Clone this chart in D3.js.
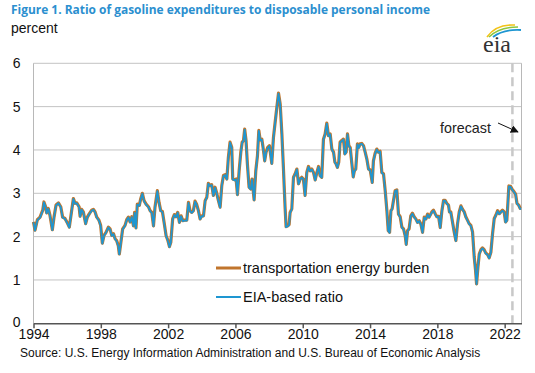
<!DOCTYPE html>
<html><head><meta charset="utf-8">
<script src="https://cdn.jsdelivr.net/npm/d3@7"></script>
<style>body{margin:0;background:#fff;} svg{display:block;font-family:"Liberation Sans",Arial,sans-serif;}</style>
</head><body><svg id="c" width="535" height="373"></svg>
<script>
// decimal-year dates of the plotted points
const dates = [
1994.00,1994.09,1994.23,1994.39,1994.55,1994.62,1994.72,1994.78,1994.88,1994.98,
1995.12,1995.22,1995.34,1995.48,1995.62,1995.73,1995.87,1996.01,1996.13,1996.27,
1996.37,1996.47,1996.57,1996.71,1996.77,1996.86,1996.96,1997.10,1997.20,1997.32,
1997.46,1997.56,1997.66,1997.76,1997.89,1997.99,1998.09,1998.19,1998.31,1998.45,
1998.55,1998.65,1998.75,1998.85,1998.94,1999.04,1999.10,1999.18,1999.30,1999.44,
1999.54,1999.64,1999.74,
1999.84,1999.94,2000.01,2000.09,2000.17,2000.29,2000.37,2000.47,2000.57,2000.69,
2000.83,2000.93,2001.03,2001.13,2001.22,2001.36,2001.46,2001.56,2001.66,2001.76,
2001.88,2001.98,2002.08,2002.16,2002.27,2002.37,2002.47,2002.57,2002.67,2002.77,
2002.87,2002.97,2003.11,2003.21,2003.30,2003.40,2003.50,2003.60,2003.70,2003.80,
2003.90,2004.00,2004.10,2004.20,2004.30,2004.39,2004.49,2004.59,2004.69,2004.79,
2004.89,2004.99,2005.09,2005.19,2005.29,2005.39,2005.49,2005.58,
2005.68,2005.78,2005.84,2005.96,2006.04,2006.12,2006.22,2006.32,2006.40,2006.48,
2006.55,2006.63,2006.71,2006.81,2006.91,2006.99,2007.11,2007.21,2007.31,2007.39,
2007.47,2007.57,2007.67,2007.74,2007.82,2007.92,2008.02,2008.10,2008.16,2008.26,
2008.36,2008.46,2008.56,2008.66,2008.76,2008.85,2008.95,2009.01,2009.11,2009.19,
2009.25,2009.35,2009.45,2009.55,2009.65,2009.75,2009.85,2009.94,2010.04,2010.14,
2010.24,2010.34,2010.44,2010.54,2010.64,2010.74,2010.84,2010.94,2011.03,2011.13,
2011.23,2011.33,2011.43,2011.53,
2011.63,2011.73,2011.83,2011.91,2011.98,2012.06,2012.14,2012.22,2012.32,2012.42,
2012.50,2012.58,2012.66,2012.74,2012.82,2012.92,2013.00,2013.07,2013.15,2013.25,
2013.33,2013.41,2013.51,2013.61,2013.71,2013.81,2013.91,2014.01,2014.13,2014.20,
2014.30,2014.40,2014.50,2014.60,2014.70,2014.80,2014.90,2015.00,2015.08,2015.16,
2015.24,2015.31,2015.39,2015.49,2015.59,2015.69,2015.79,2015.89,2015.99,2016.09,
2016.15,2016.23,2016.32,2016.42,2016.52,2016.62,2016.72,2016.82,2016.92,2017.02,
2017.12,2017.22,2017.32,2017.42,2017.51,
2017.67,2017.77,2017.87,2017.97,2018.07,2018.17,2018.27,2018.37,2018.46,2018.56,
2018.66,2018.72,2018.80,2018.90,2019.00,2019.10,2019.20,2019.30,2019.40,2019.50,
2019.60,2019.69,2019.79,2019.89,2019.99,2020.09,2020.19,2020.27,2020.33,2020.41,
2020.49,2020.59,2020.68,2020.78,2020.88,2020.98,2021.08,2021.18,2021.28,2021.38,
2021.48,2021.58,2021.68,2021.77,2021.87,2021.97,2022.05,2022.13,2022.19,2022.25,
2022.35,2022.45,2022.55,2022.65,2022.73,2022.83,2022.92,2022.98
];
// transportation energy burden, percent
const burden = [
2.34,2.15,2.39,2.45,2.61,2.80,2.69,2.55,2.65,2.49,
2.16,2.45,2.73,2.78,2.69,2.45,2.42,2.32,2.22,2.61,
2.88,2.77,2.78,2.69,2.47,2.63,2.57,2.30,2.45,2.53,
2.61,2.63,2.57,2.45,2.38,2.26,1.85,2.03,2.10,2.22,
2.18,2.03,2.07,1.95,1.91,1.79,1.60,1.83,2.18,2.26,
2.39,2.45,2.34,
2.46,2.25,2.56,2.20,2.75,2.72,2.87,3.00,2.83,2.75,
2.69,2.60,2.56,2.25,2.68,3.06,2.79,2.60,2.58,2.33,
2.02,1.92,1.77,1.87,2.41,2.51,2.46,2.56,2.33,2.48,
2.37,2.38,2.38,2.79,2.60,2.56,2.60,2.82,2.74,2.60,
2.41,2.48,2.48,2.83,2.91,3.23,3.18,3.20,2.95,3.14,
3.00,2.83,2.68,3.18,3.41,3.43,3.33,3.83,
4.18,4.06,3.33,3.31,3.33,2.97,3.52,3.95,4.18,4.22,
4.48,4.22,3.68,3.14,3.10,3.33,2.85,3.52,3.87,4.45,
4.23,4.25,3.98,3.75,3.95,4.06,4.10,3.87,3.69,4.29,
4.64,4.98,5.31,5.06,4.37,3.60,2.68,2.23,2.25,2.28,
2.56,2.64,3.37,3.45,3.56,3.22,3.33,3.37,3.33,2.95,
3.48,3.62,3.52,3.56,3.48,3.31,3.48,3.62,3.41,3.37,
4.25,4.37,4.62,4.33,
4.37,4.02,3.95,3.72,3.68,3.60,3.72,4.18,4.22,4.25,
3.91,3.95,4.37,4.10,4.06,3.68,3.38,3.52,3.56,4.14,
4.06,4.14,4.15,4.10,3.95,3.79,3.56,3.54,3.25,3.75,
3.92,4.02,3.95,3.97,3.48,3.45,3.06,2.60,2.14,2.10,
2.60,2.64,2.83,3.06,3.08,2.52,2.46,2.22,2.18,2.02,
1.82,2.14,2.18,2.48,2.54,2.46,2.41,2.33,2.37,2.29,
2.10,2.45,2.41,2.52,2.45,
2.57,2.61,2.53,2.46,2.47,2.21,2.60,2.84,2.84,2.77,
2.73,2.57,2.57,2.34,2.11,1.91,2.30,2.57,2.71,2.63,
2.57,2.46,2.38,2.30,2.26,2.11,1.53,1.22,0.91,1.29,
1.60,1.70,1.74,1.70,1.62,1.59,1.51,1.64,2.07,2.42,
2.50,2.60,2.53,2.57,2.61,2.57,2.34,2.38,2.77,3.17,
3.16,3.09,3.04,2.98,2.77,2.73,2.65,2.65
];
// EIA-based ratio, percent (overlaps the burden series almost exactly)
const eiaRatio = [
2.33,2.14,2.38,2.44,2.60,2.79,2.68,2.54,2.64,2.48,
2.15,2.44,2.72,2.77,2.68,2.44,2.41,2.31,2.21,2.60,
2.87,2.76,2.77,2.68,2.46,2.62,2.56,2.29,2.44,2.52,
2.60,2.62,2.56,2.44,2.37,2.25,1.84,2.02,2.09,2.21,
2.17,2.02,2.06,1.94,1.90,1.78,1.59,1.82,2.17,2.25,
2.38,2.44,2.33,
2.45,2.24,2.55,2.19,2.74,2.71,2.86,2.99,2.82,2.74,
2.68,2.59,2.55,2.24,2.67,3.05,2.78,2.59,2.57,2.32,
2.01,1.91,1.76,1.86,2.40,2.50,2.45,2.55,2.32,2.47,
2.36,2.37,2.37,2.78,2.59,2.55,2.59,2.81,2.73,2.59,
2.40,2.47,2.47,2.82,2.90,3.22,3.17,3.19,2.94,3.13,
2.99,2.82,2.67,3.17,3.40,3.42,3.32,3.82,
4.17,4.05,3.32,3.30,3.32,2.96,3.51,3.94,4.17,4.21,
4.47,4.21,3.67,3.13,3.09,3.32,2.84,3.51,3.86,4.44,
4.22,4.24,3.97,3.74,3.94,4.05,4.09,3.86,3.68,4.28,
4.63,4.97,5.30,5.05,4.36,3.59,2.67,2.22,2.24,2.27,
2.55,2.63,3.36,3.44,3.55,3.21,3.32,3.36,3.32,2.94,
3.47,3.61,3.51,3.55,3.47,3.30,3.47,3.61,3.40,3.36,
4.24,4.36,4.61,4.32,
4.36,4.01,3.94,3.71,3.67,3.59,3.71,4.17,4.21,4.24,
3.90,3.94,4.36,4.09,4.05,3.67,3.37,3.51,3.55,4.13,
4.05,4.13,4.14,4.09,3.94,3.78,3.55,3.53,3.24,3.74,
3.91,4.01,3.94,3.96,3.47,3.44,3.05,2.59,2.13,2.09,
2.59,2.63,2.82,3.05,3.07,2.51,2.45,2.21,2.17,2.01,
1.81,2.13,2.17,2.47,2.53,2.45,2.40,2.32,2.36,2.28,
2.09,2.44,2.40,2.51,2.44,
2.56,2.60,2.52,2.45,2.46,2.20,2.59,2.83,2.83,2.76,
2.72,2.56,2.56,2.33,2.10,1.90,2.29,2.56,2.70,2.62,
2.56,2.45,2.37,2.29,2.25,2.10,1.52,1.21,0.90,1.28,
1.59,1.69,1.73,1.69,1.61,1.58,1.50,1.63,2.06,2.41,
2.49,2.59,2.52,2.56,2.60,2.56,2.33,2.37,2.76,3.16,
3.15,3.08,3.03,2.97,2.76,2.72,2.64,2.64
];
const yTicks = [0,1,2,3,4,5,6];
const xTicks = [1994,1998,2002,2006,2010,2014,2018,2022];
const forecastStart = 2022.46;
const seriesNames = ["transportation energy burden","EIA-based ratio"];
const seriesColors = ["#c0752d","#1e96d1"];

const svg = d3.select("#c");
const x = d3.scaleLinear().domain([1994,2023]).range([33.5,521.5]);
const y = d3.scaleLinear().domain([0,6]).range([323.3,63.3]);
const [x0,x1] = x.range();

// title and unit
svg.append("text").attr("x",11).attr("y",14).attr("fill","#2b8fcf")
  .attr("font-family","'Open Sans',sans-serif").attr("font-weight","bold").attr("font-size",13)
  .attr("textLength",419).attr("lengthAdjust","spacingAndGlyphs")
  .text("Figure 1. Ratio of gasoline expenditures to disposable personal income");
svg.append("text").attr("x",11).attr("y",33).attr("font-size",14).attr("fill","#111").text("percent");

// eia logo
const logo = svg.append("g");
logo.append("path").attr("d","M487,37 Q496,24 515,25").attr("fill","none").attr("stroke","#f2c318").attr("stroke-width",1.6);
logo.append("path").attr("d","M489,37 Q499,27 518,27").attr("fill","none").attr("stroke","#8cc63f").attr("stroke-width",1.6);
logo.append("path").attr("d","M493,37 Q503,29 521,30").attr("fill","none").attr("stroke","#1e96d1").attr("stroke-width",1.8);
logo.append("text").attr("x",483).attr("y",52).attr("font-family","'Liberation Serif','DejaVu Serif',serif")
  .attr("font-size",24).attr("fill","#333").text("eia");

// gridlines
svg.append("g").selectAll("line").data(yTicks.filter(d=>d>0)).join("line")
  .attr("x1",x0).attr("x2",x1).attr("y1",d=>y(d)).attr("y2",d=>y(d))
  .attr("stroke","#c3c3c3").attr("stroke-width",1);
// side borders
svg.append("line").attr("x1",x0).attr("x2",x0).attr("y1",y(6)).attr("y2",y(0)).attr("stroke","#b8b8b8");
svg.append("line").attr("x1",x1).attr("x2",x1).attr("y1",y(6)).attr("y2",y(0)).attr("stroke","#b8b8b8");

// y labels
svg.append("g").selectAll("text").data(yTicks).join("text")
  .attr("x",20.5).attr("y",d=>y(d)).attr("dy",d=>d===0?"0.28em":"0.36em").attr("text-anchor","end")
  .attr("font-size",14).attr("fill","#111").text(d=>d);

// forecast line
svg.append("line").attr("x1",x(forecastStart)).attr("x2",x(forecastStart)).attr("y1",y(6)).attr("y2",y(0))
  .attr("stroke","#c8c8c8").attr("stroke-width",2.5).attr("stroke-dasharray","9,5");

// series lines
const line = vals => d3.line().x((d,i)=>x(dates[i])).y((d,i)=>y(vals[i]))(vals);
svg.append("path").attr("d",line(burden)).attr("fill","none").attr("stroke",seriesColors[0])
  .attr("stroke-width",3.2).attr("stroke-linejoin","round");
svg.append("path").attr("d",line(eiaRatio)).attr("fill","none").attr("stroke",seriesColors[1])
  .attr("stroke-width",1.8).attr("stroke-linejoin","round");

// x axis
const ax = svg.append("g").attr("transform",`translate(0,${y(0)})`)
  .call(d3.axisBottom(x).tickValues(xTicks).tickFormat(d3.format("d")).tickSize(5).tickSizeOuter(0));
ax.select(".domain").attr("stroke","#555").attr("stroke-width",1.5);
ax.selectAll(".tick line").attr("stroke","#555").attr("stroke-width",1.5);
ax.selectAll(".tick text").attr("y",16).attr("dy",0).attr("font-size",14).attr("fill","#111")
  .attr("font-family","'Liberation Sans',Arial,sans-serif");

// legend
const lg = svg.append("g");
seriesNames.forEach((n,i)=>{
  const ly = 268 + i*29;
  lg.append("line").attr("x1",216).attr("x2",241).attr("y1",ly).attr("y2",ly)
    .attr("stroke",seriesColors[i]).attr("stroke-width",i===0?3:2);
  lg.append("text").attr("x",243).attr("y",ly).attr("dy","0.36em").attr("font-size",14.5).attr("fill","#111").text(n);
});

// forecast annotation
svg.append("defs").append("marker").attr("id","ah").attr("viewBox","0 0 10 10").attr("refX",9).attr("refY",5)
  .attr("markerWidth",8).attr("markerHeight",8).attr("markerUnits","userSpaceOnUse").attr("orient","auto")
  .append("path").attr("d","M0,0 L10,5 L0,10 Z").attr("fill","#111");
svg.append("text").attr("x",440).attr("y",133).attr("font-size",14.3).attr("fill","#222").text("forecast");
svg.append("line").attr("x1",498).attr("y1",123).attr("x2",518).attr("y2",132)
  .attr("stroke","#111").attr("stroke-width",1).attr("marker-end","url(#ah)");

// source
svg.append("text").attr("x",20).attr("y",357).attr("font-size",12).attr("fill","#111")
  .text("Source: U.S. Energy Information Administration and U.S. Bureau of Economic Analysis");
</script></body></html>
